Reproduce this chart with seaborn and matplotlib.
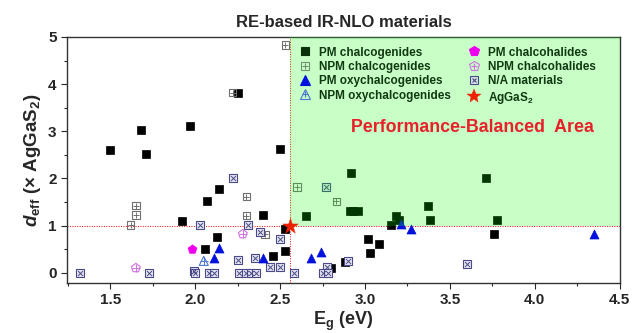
import matplotlib
matplotlib.use("Agg")
import matplotlib.pyplot as plt
import seaborn as sns
import pandas as pd
from matplotlib.lines import Line2D
from matplotlib.ticker import MultipleLocator

# data (Eg in eV, deff in x AgGaS2)
pm_chalc_x = [1.50, 1.68, 1.71, 1.97, 2.25, 2.50, 2.14, 2.07, 2.40, 1.92, 2.53, 2.13, 2.06, 2.53, 2.46,
              2.65, 2.92, 2.91, 2.93, 2.96, 3.18, 3.20, 3.15, 3.02, 3.08, 3.03, 2.88, 2.80, 3.71, 3.37,
              3.38, 3.78, 3.76]
pm_chalc_y = [2.60, 3.02, 2.52, 3.12, 3.82, 2.62, 1.78, 1.51, 1.22, 1.10, 0.92, 0.76, 0.51, 0.45, 0.36,
              1.20, 2.11, 1.31, 1.31, 1.31, 1.21, 1.11, 1.01, 0.71, 0.61, 0.41, 0.22, 0.10, 2.01, 1.41,
              1.11, 1.11, 0.81]

npm_chalc_x = [2.53, 2.22, 2.60, 2.30, 1.65, 1.65, 1.62, 2.30, 2.41, 2.83]
npm_chalc_y = [4.83, 3.82, 1.82, 1.61, 1.42, 1.22, 1.01, 1.21, 0.81, 1.51]

pm_oxy_x = [2.14, 2.11, 2.40, 2.68, 2.74, 3.21, 3.27, 4.35]
pm_oxy_y = [0.52, 0.32, 0.32, 0.32, 0.43, 1.03, 0.93, 0.82]

npm_oxy_x = [2.05]
npm_oxy_y = [0.25]

pm_halide_x = [1.98]
pm_halide_y = [0.51]

npm_halide_x = [2.28, 1.65]
npm_halide_y = [0.82, 0.10]

na_x = [2.22, 2.03, 2.31, 2.38, 2.50, 2.25, 2.35, 2.44, 2.50, 1.99, 2.00, 2.08, 2.11, 2.26, 2.30, 2.33,
        2.36, 2.58, 1.32, 1.73, 2.77, 2.90, 2.775, 2.75, 2.78, 3.60]
na_y = [2.01, 1.01, 1.01, 0.86, 0.71, 0.26, 0.31, 0.12, 0.12, 0.04, 0.00, 0.00, 0.00, 0.00, 0.00, 0.00,
        0.00, 0.00, 0.00, 0.00, 1.82, 0.24, 0.12, 0.00, 0.00, 0.18]

aggas2_x = [2.56]
aggas2_y = [1.0]

sns.set_style("ticks")
plt.rcParams["font.family"] = ["Liberation Sans", "DejaVu Sans"]
plt.rcParams["font.weight"] = "bold"
plt.rcParams["mathtext.fontset"] = "custom"
plt.rcParams["mathtext.rm"] = "Liberation Sans:bold"
plt.rcParams["mathtext.it"] = "Liberation Sans:italic:bold"
plt.rcParams["mathtext.bf"] = "Liberation Sans:bold"

fig = plt.figure(figsize=(6.33, 3.33), dpi=100)
ax = fig.add_axes([0.106, 0.150, 0.873, 0.739])

ms = 28


def df(x, y):
    return pd.DataFrame({"x": x, "y": y})


# PM chalcogenides
sns.scatterplot(data=df(pm_chalc_x, pm_chalc_y), x="x", y="y", marker="s", s=ms, color="black",
                edgecolor="black", linewidth=0.5, ax=ax, zorder=3)
# NPM chalcogenides: open square with plus
d = df(npm_chalc_x, npm_chalc_y)
sns.scatterplot(data=d, x="x", y="y", marker="s", s=ms, facecolor="none", edgecolor="#707070",
                linewidth=0.8, ax=ax, zorder=3)
sns.scatterplot(data=d, x="x", y="y", marker="+", s=ms * 0.9, color="#707070", linewidth=0.7, ax=ax, zorder=3)
# N/A materials: square with cross
d = df(na_x, na_y)
sns.scatterplot(data=d, x="x", y="y", marker="s", s=ms, facecolor="#e6e6f2", edgecolor="#4a4a88",
                linewidth=0.8, ax=ax, zorder=3)
sns.scatterplot(data=d, x="x", y="y", marker="x", s=ms * 0.45, color="#4a4a88", linewidth=0.7, ax=ax, zorder=3)
# PM oxychalcogenides
sns.scatterplot(data=df(pm_oxy_x, pm_oxy_y), x="x", y="y", marker="^", s=ms * 1.5, color="#0010dd",
                edgecolor="#0010dd", linewidth=0.5, ax=ax, zorder=3)
# NPM oxychalcogenides
d = df(npm_oxy_x, npm_oxy_y)
sns.scatterplot(data=d, x="x", y="y", marker="^", s=ms * 1.5, facecolor="none", edgecolor="#4a78d0",
                linewidth=0.8, ax=ax, zorder=3)
sns.scatterplot(data=d, x="x", y="y", marker="+", s=ms, color="#4a78d0", linewidth=0.7, ax=ax, zorder=3)
# PM chalcohalides
sns.scatterplot(data=df(pm_halide_x, pm_halide_y), x="x", y="y", marker="p", s=ms * 1.6, color="#ee00ee",
                edgecolor="#ee00ee", linewidth=0.5, ax=ax, zorder=3)
# NPM chalcohalides
d = df(npm_halide_x, npm_halide_y)
sns.scatterplot(data=d, x="x", y="y", marker="p", s=ms * 1.6, facecolor="none", edgecolor="#d070e0",
                linewidth=0.8, ax=ax, zorder=3)
sns.scatterplot(data=d, x="x", y="y", marker="+", s=ms, color="#d070e0", linewidth=0.7, ax=ax, zorder=3)
# AgGaS2
sns.scatterplot(data=df(aggas2_x, aggas2_y), x="x", y="y", marker="*", s=ms * 5, color="#ee2200",
                edgecolor="#ee2200", linewidth=0.3, ax=ax, zorder=4)

# reference lines and performance-balanced area
ax.axhline(1.0, color="red", ls=(0, (1, 1.5)), lw=0.7, zorder=2)
ax.axvline(aggas2_x[0], color="red", ls=(0, (1, 1.5)), lw=0.7, zorder=2)
ax.fill_between([aggas2_x[0], 4.5], 1.0, 5.0, color="#00ff00", alpha=0.22, lw=0, zorder=3.5)
ax.text(3.63, 3.07, "Performance-Balanced  Area", color="#e8202a", fontsize=12.8, fontweight="bold",
        ha="center", va="center", zorder=6)

ax.set_xlim(1.245, 4.5)
ax.set_ylim(-0.22, 5.0)
ax.xaxis.set_major_locator(MultipleLocator(0.5))
ax.xaxis.set_minor_locator(MultipleLocator(0.25))
ax.yaxis.set_major_locator(MultipleLocator(1))
ax.yaxis.set_minor_locator(MultipleLocator(0.5))
ax.tick_params(which="major", direction="out", length=4, width=0.8, labelsize=11)
ax.tick_params(which="minor", direction="out", length=2.5, width=0.8)
for lab in ax.get_xticklabels() + ax.get_yticklabels():
    lab.set_fontweight("bold")
for sp in ax.spines.values():
    sp.set_linewidth(1.0)
    sp.set_color("#333333")

ax.set_xlabel(r"E$_{\rm g}$ (eV)", fontsize=13, fontweight="bold", labelpad=2)
ax.set_ylabel(r"$d_{\rm eff}$ (× AgGaS$_{\rm 2}$)", fontsize=13.5, fontweight="bold", labelpad=4)
ax.set_title("RE-based IR-NLO materials", fontsize=12, fontweight="bold", pad=7)

# legend with overlaid marker handles
def mk(marker, fc, ec, size=5.5, lw=0.8):
    return Line2D([], [], ls="none", marker=marker, markersize=size, markerfacecolor=fc,
                  markeredgecolor=ec, markeredgewidth=lw)

handles = [
    mk("s", "#0a300a", "#0a300a"),
    (mk("s", "none", "#709070"), mk("+", "none", "#709070", 5)),
    mk("^", "#0010dd", "#0010dd", 6.5),
    (mk("^", "none", "#4a78d0", 6.5), mk("+", "none", "#4a78d0", 5)),
    mk("p", "#ee00ee", "#ee00ee", 7),
    (mk("p", "none", "#d070e0", 7), mk("+", "none", "#d070e0", 5)),
    (mk("s", "#d6e6e2", "#4a4a88"), mk("x", "none", "#4a4a88", 3.5)),
    mk("*", "#ee2200", "#ee2200", 10, 0.3),
]
labels = ["PM chalcogenides", "NPM chalcogenides", "PM oxychalcogenides", "NPM oxychalcogenides",
          "PM chalcohalides", "NPM chalcohalides", "N/A materials", r"AgGaS$_{\rm 2}$"]
leg = ax.legend(handles, labels, ncol=2, loc="upper left", bbox_to_anchor=(0.405, 0.99), frameon=False,
                prop={"size": 8.5, "weight": "bold"}, handletextpad=0.6, columnspacing=1.3,
                labelspacing=0.2, handlelength=1.2, borderaxespad=0.2)
for t in leg.get_texts():
    t.set_color("#123812")

fig.savefig("out.png", dpi=100)
